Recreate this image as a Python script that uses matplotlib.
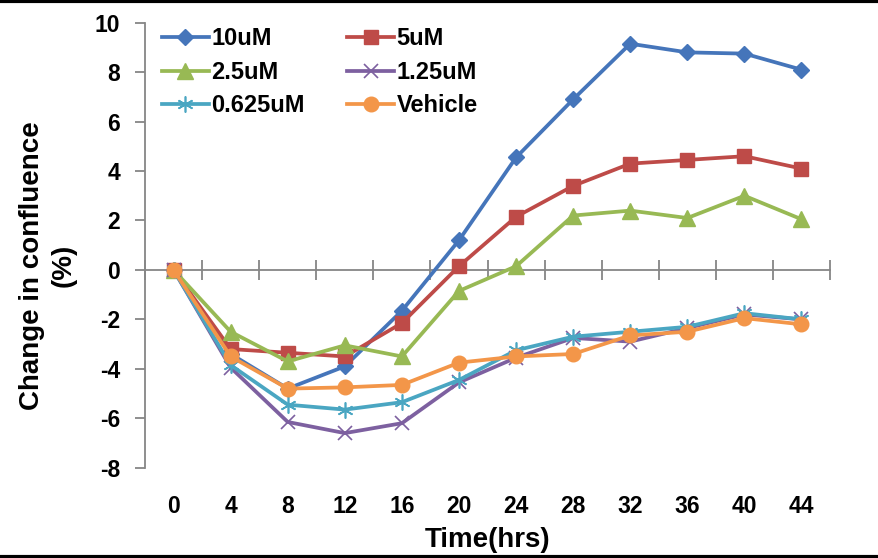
import numpy as np
import matplotlib
matplotlib.use("Agg")
import matplotlib.pyplot as plt
from matplotlib.lines import Line2D

plt.rcParams['font.family'] = ['Liberation Sans', 'DejaVu Sans']
plt.rcParams['font.weight'] = 'bold'
plt.rcParams['axes.unicode_minus'] = False

# time points (hours) and change in confluence (%) per treatment
hours = [0, 4, 8, 12, 16, 20, 24, 28, 32, 36, 40, 44]
conf_10uM = [0, -3.4, -4.8, -3.9, -1.65, 1.2, 4.55, 6.9, 9.15, 8.8, 8.75, 8.1]
conf_5uM = [0, -3.2, -3.35, -3.5, -2.15, 0.15, 2.15, 3.4, 4.3, 4.45, 4.6, 4.1]
conf_2p5uM = [0, -2.5, -3.7, -3.05, -3.5, -0.85, 0.15, 2.2, 2.4, 2.1, 3.0, 2.05]
conf_1p25uM = [0, -3.95, -6.15, -6.6, -6.2, -4.55, -3.55, -2.75, -2.9, -2.35, -1.8, -2.0]
conf_0p625uM = [0, -3.85, -5.45, -5.65, -5.35, -4.45, -3.25, -2.7, -2.5, -2.3, -1.75, -2.0]
conf_vehicle = [0, -3.5, -4.8, -4.75, -4.65, -3.75, -3.5, -3.4, -2.65, -2.5, -1.95, -2.2]

series = [
    ('10uM', conf_10uM, '#4575BA', 'D', 8, 1),
    ('5uM', conf_5uM, '#BE4B48', 's', 10, 1),
    ('2.5uM', conf_2p5uM, '#98B954', '^', 11.5, 1),
    ('1.25uM', conf_1p25uM, '#7D60A0', 'x', 10.5, 1.2),
    ('0.625uM', conf_0p625uM, '#4AA6C2', (6, 2, 0), 11.5, 1.2),
    ('Vehicle', conf_vehicle, '#F39649', 'o', 10.5, 1),
]

fig = plt.figure(figsize=(8.79, 5.58), dpi=100)
ax = fig.add_axes([0.165, 0.1618, 0.7793, 0.7975])

x = np.arange(len(hours))
lines = {}
for name, vals, col, mk, ms, mew in series:
    ln, = ax.plot(x, vals, color=col, lw=2.7, marker=mk, markersize=ms,
                  markerfacecolor=col, markeredgecolor=col, markeredgewidth=mew,
                  label=name, clip_on=False)
    lines[name] = ln

ax.set_xlim(-0.5, len(hours) - 0.5)
ax.set_ylim(-8, 10)
ax.set_yticks(np.arange(-8, 11, 2))

axis_grey = '#868686'
for side in ['top', 'right']:
    ax.spines[side].set_visible(False)
ax.spines['left'].set_color(axis_grey)
ax.spines['left'].set_linewidth(1.3)
ax.spines['bottom'].set_position(('data', 0))
ax.spines['bottom'].set_color(axis_grey)
ax.spines['bottom'].set_linewidth(1.3)
ax.spines['bottom'].set_zorder(0.5)

# category boundaries as cross ticks on the zero line
ax.set_xticks(np.arange(-0.5, len(hours), 1))
ax.tick_params(axis='x', direction='inout', length=14, width=1.3,
               color=axis_grey, labelbottom=False)
ax.tick_params(axis='y', direction='out', length=7, width=1.3,
               color=axis_grey, labelsize=16.5, pad=11)
for t in ax.get_yticklabels():
    t.set_fontweight('bold')

# hour labels along the bottom of the plot
sec = ax.secondary_xaxis('bottom')
sec.set_xticks(x, [str(h) for h in hours])
sec.tick_params(length=0, labelsize=16.5, pad=20)
sec.spines['bottom'].set_visible(False)
for t in sec.get_xticklabels():
    t.set_fontweight('bold')
sec.set_xlabel('Time(hrs)', fontsize=20, fontweight='bold', labelpad=6)

ax.set_ylabel('Change in confluence\n(%)', fontsize=20, fontweight='bold',
              linespacing=1.3)
ax.yaxis.set_label_coords(-0.1, 0.455)

order = ['10uM', '2.5uM', '0.625uM', '5uM', '1.25uM', 'Vehicle']
ax.legend([lines[n] for n in order], order, ncol=2, frameon=False,
          prop={'size': 17, 'weight': 'bold'}, loc='upper left',
          bbox_to_anchor=(0.0, 1.027), handlelength=2.0, handletextpad=0.1,
          columnspacing=1.8, labelspacing=0.45, borderaxespad=0.3)

# frame lines around the figure
fig.add_artist(Line2D([0, 1], [0.998, 0.998], transform=fig.transFigure,
                      color='black', lw=3))
fig.add_artist(Line2D([0, 1], [0.002, 0.002], transform=fig.transFigure,
                      color='black', lw=3))
fig.add_artist(Line2D([0.9995, 0.9995], [0, 1], transform=fig.transFigure,
                      color='#C8C8C8', lw=1))

fig.savefig('out.png', dpi=100)
